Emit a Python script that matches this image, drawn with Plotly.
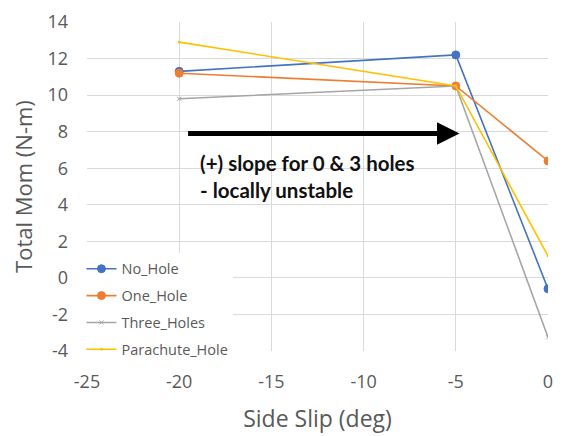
import plotly.graph_objects as go

side_slip = [-20, -5, 0]
no_hole = [11.3, 12.2, -0.6]
one_hole = [11.2, 10.5, 6.4]
three_holes = [9.8, 10.5, -3.25]
parachute_hole = [12.9, 10.5, 1.2]

x_ticks = [-25, -20, -15, -10, -5, 0]
y_ticks = [-4, -2, 0, 2, 4, 6, 8, 10, 12, 14]

arrow_start = (-19.6, 7.9)
arrow_end = (-4.8, 7.9)

grey = "#595959"
fig = go.Figure()
series = [
    ("No_Hole", no_hole, "#4472C4", "circle", 8),
    ("One_Hole", one_hole, "#ED7D31", "circle", 8),
    ("Three_Holes", three_holes, "#A5A5A5", "x-thin", 4),
    ("Parachute_Hole", parachute_hole, "#FFC000", "circle", 2),
]
for name, ys, col, sym, sz in series:
    fig.add_trace(go.Scatter(
        x=side_slip, y=ys, name=name, mode="lines+markers", legendgroup=name,
        line=dict(color=col, width=1.6),
        marker=dict(color=col, symbol=sym, size=sz, line=dict(color=col, width=1)),
    ))

fig.add_annotation(
    x=arrow_end[0], y=arrow_end[1], ax=arrow_start[0], ay=arrow_start[1],
    xref="x", yref="y", axref="x", ayref="y",
    showarrow=True, arrowhead=2, arrowsize=0.9, arrowwidth=5, arrowcolor="black", text="",
)
fig.add_annotation(
    x=-19.0, y=6.3, xref="x", yref="y", xanchor="left", yanchor="middle",
    text="<b>(+) slope for 0 & 3 holes</b>", showarrow=False,
    font=dict(family="Lato", size=20.5, color="#111111"),
)
fig.add_annotation(
    x=-19.0, y=4.8, xref="x", yref="y", xanchor="left", yanchor="middle",
    text="<b>- locally unstable</b>", showarrow=False,
    font=dict(family="Lato", size=20.5, color="#111111"),
)
# y-axis title placed as a rotated annotation
fig.add_annotation(
    x=-0.14, y=0.5, xref="paper", yref="paper", xanchor="center", yanchor="middle",
    text="Total Mom (N-m)", textangle=-90, showarrow=False,
    font=dict(family="Open Sans", size=22, color=grey),
)

fig.update_layout(
    width=562, height=436,
    margin=dict(l=87, r=9, t=21, b=85),
    paper_bgcolor="white", plot_bgcolor="white",
    font=dict(family="Open Sans", color=grey),
    showlegend=True,
    legend=dict(
        x=-0.012, y=-0.045, xanchor="left", yanchor="bottom",
        bgcolor="white", font=dict(size=14.5, color=grey),
        tracegroupgap=5, itemwidth=30,
    ),
    xaxis=dict(
        range=[-25, 0], tickvals=x_ticks, ticktext=[str(v) for v in x_ticks],
        showgrid=True, gridcolor="#D9D9D9", gridwidth=1, zeroline=False,
        showline=False, tickfont=dict(size=18, color=grey),
        title=dict(text="Side Slip (deg)", font=dict(size=23, color=grey), standoff=18),
        ticks="", ticklen=0, ticklabelstandoff=18,
    ),
    yaxis=dict(
        range=[-4, 14], tickvals=y_ticks, ticktext=[str(v) for v in y_ticks],
        showgrid=True, gridcolor="#D9D9D9", gridwidth=1, zeroline=False,
        showline=False, tickfont=dict(size=18, color=grey),
        ticks="", ticklen=0, ticklabelstandoff=18,
    ),
)
fig.write_html("out.html")
